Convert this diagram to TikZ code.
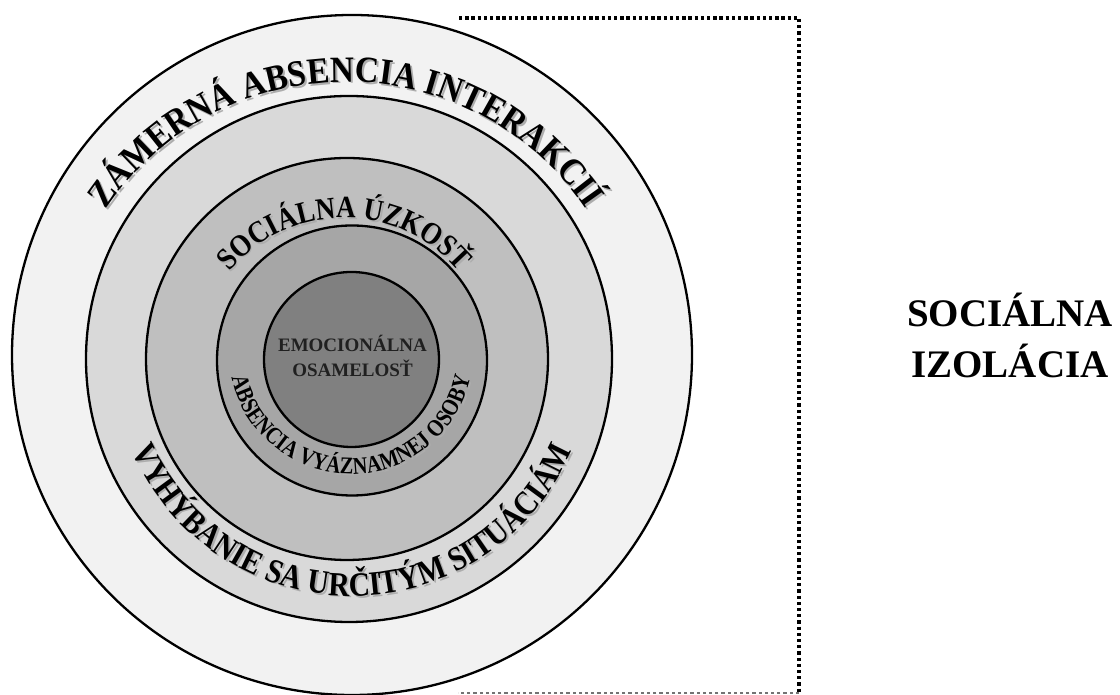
\documentclass[tikz,border=0pt]{standalone}
\usepackage{fontspec}
\setmainfont{Liberation Serif}
\newfontfamily\arcA{Liberation Serif}[FakeStretch=0.9]
\newfontfamily\arcB{Liberation Serif}[FakeStretch=0.87]
\newfontfamily\arcC{Liberation Serif}[FakeStretch=0.85]
\usetikzlibrary{decorations.text}
\definecolor{ringA}{HTML}{F2F2F2}
\definecolor{ringB}{HTML}{D9D9D9}
\definecolor{ringC}{HTML}{BFBFBF}
\definecolor{ringD}{HTML}{A6A6A6}
\definecolor{ringE}{HTML}{808080}
\definecolor{coretext}{HTML}{202020}
% #1 font, #2 radius, #3 start, #4 end, #5 text, #6 centre
\newcommand\curvtext[6]{%
  \path[decorate,decoration={text along path,text align=center,text={|#1\color{black!32}|#5}}]
    ([shift={(1.8,-1.8)}]#6) ++(#3:#2) arc[start angle=#3,end angle=#4,radius=#2];
  \path[decorate,decoration={text along path,text align=center,text={|#1|#5}}]
    (#6) ++(#3:#2) arc[start angle=#3,end angle=#4,radius=#2];
}
\tikzset{
  ring/.style={circle,draw=black,line width=2.3pt,inner sep=0pt},
  frameline/.style={line width=3.2pt,dash pattern=on 3.3pt off 2.9pt},
}
\begin{document}
\begin{tikzpicture}[x=1pt,y=1pt]
\useasboundingbox (0,0) rectangle (1120,695);
\coordinate (fa) at (459,677);
\coordinate (fb) at (799,677);
\coordinate (fc) at (799,1.5);
\coordinate (fd) at (458,1.5);
\draw[frameline] (fa) -- (fb) -- (fc);
\draw[frameline,line width=2pt,black!55] (fc) -- (fd);
\coordinate (T1) at (346,323);
\coordinate (T2) at (352,338);
\coordinate (T3) at (344,327);
\coordinate (T4) at (351,343);
\node[ring,fill=ringA,minimum size=680pt] (c1) at (352,340) {};
\node[ring,fill=ringB,minimum size=526pt] (c2) at (349,336) {};
\node[ring,fill=ringC,minimum size=402pt] (c3) at (347,336) {};
\node[ring,fill=ringD,minimum size=270pt] (c4) at (352,334.5) {};
\node[ring,fill=ringE,minimum size=175pt] (c5) at (351.5,335.5) {};
\curvtext{\arcA\fontsize{37}{37}\selectfont\bfseries}{290}{180}{0}{ZÁMERNÁ ABSENCIA INTERAKCIÍ}{T1}
\curvtext{\arcB\fontsize{34}{34}\selectfont\bfseries}{239}{180}{360}{VYHÝBANIE SA URČITÝM SITUÁCIÁM}{T2}
\curvtext{\arcB\fontsize{31}{31}\selectfont\bfseries}{150}{180}{0}{SOCIÁLNA ÚZKOSŤ}{T3}
\curvtext{\arcC\fontsize{24}{24}\selectfont\bfseries}{122}{180}{360}{ABSENCIA VYÁZNAMNEJ OSOBY}{T4}
\node[anchor=base,font=\fontsize{19}{19}\selectfont\bfseries,text=coretext] (e1) at (352.5,343) {EMOCIONÁLNA};
\node[anchor=base,font=\fontsize{19}{19}\selectfont\bfseries,text=coretext] (e2) at (352.5,318) {OSAMELOSŤ};
\node[anchor=base,font=\fontsize{39}{39}\selectfont\bfseries] (s1) at (1010,368) {SOCIÁLNA};
\node[anchor=base,font=\fontsize{39}{39}\selectfont\bfseries] (s2) at (1010,317) {IZOLÁCIA};
\end{tikzpicture}
\end{document}
